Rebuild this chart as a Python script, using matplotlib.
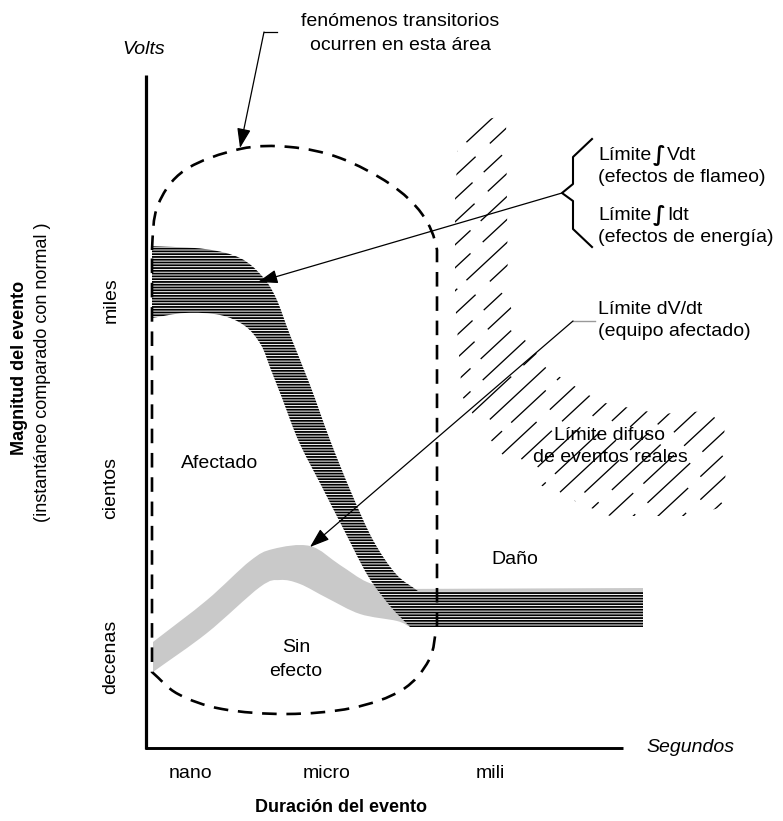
import numpy as np
import matplotlib
matplotlib.use("Agg")
import matplotlib.pyplot as plt
from matplotlib.path import Path
from matplotlib.patches import PathPatch, Polygon

plt.rcParams['font.family'] = ['Liberation Sans', 'DejaVu Sans']
plt.rcParams['hatch.linewidth'] = 1.3
plt.rcParams['lines.scale_dashes'] = False

W, H = 783, 821

# ---- ejes / etiquetas ----
y_ticks = ["miles", "cientos", "decenas"]
y_tick_pos = [300, 488, 657]
x_ticks = ["nano", "micro", "mili"]
x_tick_pos = [190, 327, 490]

# ---- contornos del esquema (coordenadas en px de la imagen) ----
transit_top = [(152, 250), (158, 205), (185, 170), (240, 149), (290, 147),
               (340, 158), (390, 184), (422, 214), (437, 250)]
transit_bottom = [(437, 625), (429, 660), (402, 690), (352, 708), (287, 714),
                  (222, 709), (178, 694), (152, 672)]

band_upper = [(152, 246), (205, 249), (240, 258), (262, 276), (276, 298),
              (290, 335), (310, 385), (330, 440), (351, 492), (373, 540),
              (396, 574), (418, 591)]
band_lower = [(410, 627), (390, 606), (368, 576), (345, 532), (322, 487),
              (299, 442), (282, 398), (271, 370), (261, 345), (245, 326),
              (220, 315), (185, 313), (152, 318)]
band_end = [(643, 591), (643, 627)]

gray_upper = [(153, 642), (207, 600), (250, 561), (273, 549), (310, 546),
              (340, 565), (367, 582), (395, 589)]
gray_end = [(643, 588), (643, 627)]
gray_lower = [(410, 627), (397, 621), (360, 614), (327, 598), (300, 584),
              (280, 580), (260, 587), (207, 633), (153, 672)]

diffuse_region = [(458, 145), (480, 120), (506, 116), (508, 300), (522, 336),
                  (552, 372), (600, 402), (660, 414), (724, 410), (726, 506),
                  (690, 516), (610, 516), (577, 502), (547, 489), (520, 472),
                  (500, 452), (480, 426), (462, 396), (455, 300), (455, 200)]
diffuse_styles = [(0, (30, 10)), (12, (42, 12)), (5, (22, 9, 44, 12)),
                  (20, (55, 14)), (2, (34, 11, 18, 9)), (14, (48, 13))]

brace = [(592, 139), (573, 157), (573, 184), (562, 193), (573, 201),
         (573, 229), (592, 247)]


def curve(pts, before=None, after=None):
    p = np.asarray(pts, float)
    b = np.asarray(before, float) if before is not None else 2 * p[0] - p[1]
    a = np.asarray(after, float) if after is not None else 2 * p[-1] - p[-2]
    ext = np.vstack([b, p, a])
    verts, codes = [p[0]], [Path.MOVETO]
    for i in range(1, len(ext) - 2):
        c1 = ext[i] + (ext[i + 1] - ext[i - 1]) / 6
        c2 = ext[i + 1] - (ext[i + 2] - ext[i]) / 6
        verts += [c1, c2, ext[i + 1]]
        codes += [Path.CURVE4] * 3
    return verts, codes


def build(pieces, close=True):
    verts, codes = [], []
    for kind, pts, *tan in pieces:
        if kind == 's':
            v, c = curve(pts, *tan) if tan else curve(pts)
        else:
            v = [np.asarray(q, float) for q in pts]
            c = [Path.MOVETO] + [Path.LINETO] * (len(v) - 1)
        if verts:
            c = [Path.LINETO] + c[1:]
        verts += v
        codes += c
    if close:
        verts.append(verts[0])
        codes.append(Path.CLOSEPOLY)
    return Path(verts, codes)


fig = plt.figure(figsize=(W / 100, H / 100), dpi=100)
ax = fig.add_axes([0, 0, 1, 1])
ax.set_xlim(0, W)
ax.set_ylim(H, 0)
ax.axis('off')

# banda gris (límite dV/dt)
gray_path = build([('s', gray_upper), ('l', gray_end), ('s', gray_lower)])
ax.add_patch(PathPatch(gray_path, facecolor='#c9c9c9', edgecolor='none', zorder=2))

# banda rayada (límites integrales)
band_path = build([('s', band_upper), ('l', band_end), ('s', band_lower)])
ax.add_patch(PathPatch(band_path, facecolor='white', edgecolor='black', lw=0,
                       hatch='------', zorder=3))

# zona difusa de eventos reales
clip = Polygon(diffuse_region, closed=True, facecolor='none', edgecolor='none')
ax.add_patch(clip)
xs = np.array([440, 740])
for k, c in enumerate(np.arange(530, 1200, 23)):
    ln, = ax.plot(xs, c - 0.93 * xs, color='black', lw=0.95,
                  linestyle=diffuse_styles[k % len(diffuse_styles)], zorder=2)
    ln.set_clip_path(clip)

# contorno de transitorios
outline = build([('s', transit_top, (152, 300), (437, 300)),
                 ('l', [transit_top[-1], transit_bottom[0]]),
                 ('s', transit_bottom),
                 ('l', [transit_bottom[-1], transit_top[0]])], close=False)
ax.add_patch(PathPatch(outline, facecolor='none', edgecolor='black', lw=1.9,
                       linestyle=(0, (10.5, 7)), zorder=5))

# ejes
ax.plot([146, 146], [75, 749], color='black', lw=2.3, solid_capstyle='butt', zorder=6)
ax.plot([145, 623], [748, 748], color='black', lw=2.1, solid_capstyle='butt', zorder=6)

# flechas
arrow = dict(arrowstyle='-|>,head_length=1.2,head_width=0.42', color='black',
             lw=0.9, mutation_scale=10, shrinkA=0, shrinkB=0)
ax.plot([277, 264], [32, 32], color='black', lw=0.9)
ax.annotate('', xy=(240, 148), xytext=(264, 32), arrowprops=arrow, zorder=7)
ax.annotate('', xy=(258, 282), xytext=(562, 193), arrowprops=arrow, zorder=7)
ax.plot([595, 573], [321, 321], color='#999999', lw=1.0)
ax.annotate('', xy=(310, 547), xytext=(573, 321), arrowprops=arrow, zorder=7)
bx, by = zip(*brace)
ax.plot(bx, by, color='black', lw=1.5)

fs = 14
ax.text(400, 22, "fenómenos transitorios", fontsize=fs, ha='center', va='center')
ax.text(400, 45, "ocurren en esta área", fontsize=fs, ha='center', va='center')
ax.text(144, 50, "Volts", fontsize=fs, style='italic', ha='center', va='center')
ax.text(690, 748, "Segundos", fontsize=fs, style='italic', ha='center', va='center')

for yy, var in [(155, "Vdt"), (215, "Idt")]:
    ax.text(598, yy, "Límite", fontsize=fs, ha='left', va='center')
    ax.text(659, yy, "∫", fontsize=15, fontweight='bold', ha='center', va='center',
            family=['DejaVu Sans'])
    ax.text(667, yy, var, fontsize=fs, ha='left', va='center')
ax.text(598, 178, "(efectos de flameo)", fontsize=fs, ha='left', va='center')
ax.text(598, 238, "(efectos de energía)", fontsize=fs, ha='left', va='center')
ax.text(598, 309, "Límite dV/dt", fontsize=fs, ha='left', va='center')
ax.text(598, 332, "(equipo afectado)", fontsize=fs, ha='left', va='center')

ax.text(220, 463, "Afectado", fontsize=fs, ha='center', va='center')
ax.text(515, 560, "Daño", fontsize=fs, ha='center', va='center')
ax.text(296, 647, "Sin", fontsize=fs, ha='center', va='center')
ax.text(296, 671, "efecto", fontsize=fs, ha='center', va='center')
ax.text(610, 436, "Límite difuso", fontsize=fs, ha='center', va='center', zorder=8)
ax.text(610, 458, "de eventos reales", fontsize=fs, ha='center', va='center', zorder=8)

for lab, yp in zip(y_ticks, y_tick_pos):
    ax.text(111, yp, lab, fontsize=fs, rotation=90, ha='center', va='center')
for lab, xp in zip(x_ticks, x_tick_pos):
    ax.text(xp, 773, lab, fontsize=fs, ha='center', va='center')

ax.text(20, 368, "Magnitud del evento", fontsize=13, fontweight='bold',
        rotation=90, ha='center', va='center')
ax.text(43, 372, "(instantáneo comparado con normal )", fontsize=13,
        rotation=90, ha='center', va='center')
ax.text(341, 808, "Duración del evento", fontsize=13, fontweight='bold',
        ha='center', va='center')

fig.savefig("out.png", dpi=100)
